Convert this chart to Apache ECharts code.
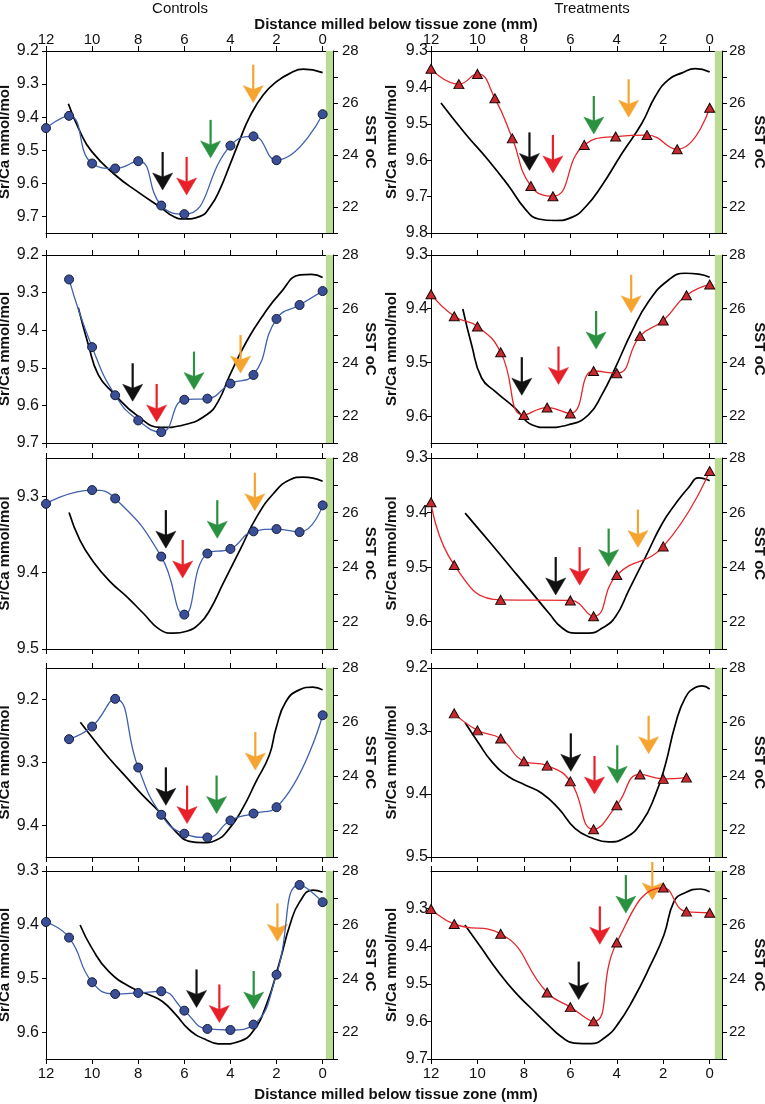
<!DOCTYPE html>
<html>
<head>
<meta charset="utf-8">
<title>Sr/Ca and SST</title>
<script src="https://cdn.jsdelivr.net/npm/echarts@6.0.0/dist/echarts.min.js"></script>
<style>
  html, body { margin: 0; padding: 0; background: #fff; }
  #chart { width: 765px; height: 1104px; }
</style>
</head>
<body>
<div id="chart"></div>
<script>
// ---- data ----
// distance milled below tissue zone (mm), Sr/Ca (mmol/mol), SST (oC)
var distTicks = [0, 2, 4, 6, 8, 10, 12];
var sstTicks = [21, 22, 23, 24, 25, 26, 27, 28];
var sstLabels = [22, 24, 26, 28];
// arrows: [distance, Sr/Ca at tip] in order black, red, green, orange
var arrowColors = ['#111111', '#e8202a', '#2a9140', '#f6a430'];

// Controls row 1
var c1Range = [9.2, 9.75];
var c1Ticks = [9.2, 9.3, 9.4, 9.5, 9.6, 9.7];
var c1Dist = [12, 11, 10, 9, 8, 7, 6, 4, 3, 2, 0];
var c1SrCa = [9.433, 9.396, 9.540, 9.555, 9.533, 9.667, 9.693, 9.486, 9.458, 9.530, 9.391];
var c1SstDist = [11.03, 10.53, 10.02, 9.01, 8.0, 6.99, 6.48, 6.02, 5.32, 4.82, 4.46, 4.02, 3.59, 3.16, 2.58, 2.0, 1.42, 0.84, 0];
var c1Sst = [25.97, 24.91, 24.14, 23.24, 22.57, 21.96, 21.64, 21.54, 21.64, 22.09, 22.67, 23.63, 24.59, 25.48, 26.31, 26.82, 27.14, 27.30, 27.17];
var c1Arrows = [[6.94, 9.620], [5.9, 9.635], [4.86, 9.523], [3.01, 9.356]];

// Treatments row 1
var t1Range = [9.3, 9.8];
var t1Ticks = [9.3, 9.4, 9.5, 9.6, 9.7, 9.8];
var t1Dist = [12, 10.8, 10, 9.25, 8.5, 7.7, 6.75, 5.4, 4.05, 2.7, 1.4, 0];
var t1SrCa = [9.349, 9.391, 9.363, 9.430, 9.540, 9.671, 9.699, 9.558, 9.535, 9.531, 9.570, 9.456];
var t1SstDist = [11.57, 10.53, 9.53, 8.67, 7.95, 7.37, 6.65, 5.94, 5.36, 4.64, 3.78, 2.92, 2.34, 1.77, 1.19, 0.62, 0];
var t1Sst = [26.0, 24.83, 23.80, 22.83, 21.93, 21.54, 21.48, 21.60, 21.99, 22.83, 24.06, 25.22, 26.26, 26.90, 27.16, 27.32, 27.19];
var t1Arrows = [[7.76, 9.628], [6.75, 9.635], [4.99, 9.528], [3.49, 9.482]];

// Controls row 2
var c2Range = [9.2, 9.7];
var c2Ticks = [9.2, 9.3, 9.4, 9.5, 9.6, 9.7];
var c2Dist = [11, 10, 9, 8, 7, 6, 5, 4, 3, 2, 1, 0];
var c2SrCa = [9.265, 9.445, 9.573, 9.640, 9.671, 9.585, 9.582, 9.542, 9.519, 9.370, 9.333, 9.296];
var c2SstDist = [10.6, 10.16, 9.73, 9.08, 8.0, 7.0, 6.0, 5.03, 4.53, 4.02, 3.3, 2.57, 1.85, 0.98, 0.48, 0];
var c2Sst = [26.04, 24.65, 23.54, 22.86, 21.99, 21.58, 21.68, 22.05, 22.55, 23.54, 24.78, 25.77, 26.57, 27.26, 27.28, 27.16];
var c2Arrows = [[8.24, 9.589], [7.2, 9.644], [5.58, 9.558], [3.56, 9.514]];

// Treatments row 2
var t2Range = [9.3, 9.65];
var t2Ticks = [9.3, 9.4, 9.5, 9.6];
var t2Dist = [12, 11, 10, 9, 8, 7, 6, 5, 4, 3, 2, 1, 0];
var t2SrCa = [9.373, 9.414, 9.433, 9.481, 9.598, 9.584, 9.595, 9.516, 9.520, 9.451, 9.422, 9.375, 9.355];
var t2SstDist = [10.63, 10.25, 9.82, 9.24, 8.38, 7.66, 7.01, 6.08, 5.22, 4.64, 4.07, 3.35, 2.63, 1.77, 1.05, 0.47, 0];
var t2Sst = [25.99, 24.65, 23.42, 22.92, 22.30, 21.68, 21.58, 21.68, 22.05, 22.80, 23.79, 25.15, 26.27, 27.07, 27.32, 27.29, 27.17];
var t2Arrows = [[8.09, 9.561], [6.51, 9.541], [4.89, 9.475], [3.38, 9.4075]];

// Controls row 3
var c3Range = [9.25, 9.5];
var c3Ticks = [9.3, 9.4, 9.5];
var c3Dist = [12, 10, 9, 7, 6, 5, 4, 3, 2, 1, 0];
var c3SrCa = [9.310, 9.292, 9.303, 9.379, 9.455, 9.375, 9.369, 9.346, 9.343, 9.347, 9.312];
var c3SstDist = [11.0, 10.53, 9.95, 9.22, 8.5, 7.78, 7.06, 6.48, 5.9, 5.32, 4.89, 4.31, 3.59, 2.86, 2.14, 1.42, 0.84, 0];
var c3Sst = [26.0, 24.99, 24.2, 23.47, 22.92, 22.31, 21.71, 21.58, 21.65, 21.95, 22.43, 23.41, 24.62, 25.84, 26.69, 27.2, 27.3, 27.15];
var c3Arrows = [[6.8, 9.368], [6.07, 9.407], [4.57, 9.355], [2.94, 9.319]];

// Treatments row 3
var t3Range = [9.3, 9.65];
var t3Ticks = [9.3, 9.4, 9.5, 9.6];
var t3Dist = [12, 11, 9, 6, 5, 4, 2, 0];
var t3SrCa = [9.381, 9.496, 9.560, 9.561, 9.590, 9.5145, 9.462, 9.324];
var t3SstDist = [10.53, 9.78, 9.06, 8.35, 7.63, 6.92, 6.35, 5.77, 5.2, 4.62, 4.05, 3.48, 2.76, 2.05, 1.47, 0.9, 0.47, 0.19, 0];
var t3Sst = [25.98, 25.23, 24.5, 23.77, 23.04, 22.31, 21.77, 21.58, 21.58, 21.77, 22.19, 23.16, 24.38, 25.59, 26.32, 26.93, 27.27, 27.23, 27.17];
var t3Arrows = [[6.63, 9.551], [5.6, 9.533], [4.35, 9.499], [3.09, 9.464]];

// Controls row 4
var c4Range = [9.15, 9.45];
var c4Ticks = [9.2, 9.3, 9.4];
var c4Dist = [11, 10, 9, 8, 7, 6, 5, 4, 3, 2, 0];
var c4SrCa = [9.263, 9.243, 9.199, 9.308, 9.383, 9.413, 9.419, 9.392, 9.381, 9.371, 9.225];
var c4SstDist = [10.51, 9.97, 9.25, 8.53, 7.81, 7.08, 6.36, 5.78, 5.2, 4.63, 4.05, 3.47, 2.89, 2.31, 2.02, 1.59, 1.01, 0.43, 0];
var c4Sst = [25.99, 25.4, 24.65, 23.97, 23.29, 22.67, 21.93, 21.58, 21.53, 21.62, 22.05, 22.80, 23.79, 24.78, 25.77, 26.76, 27.19, 27.29, 27.19];
var c4Arrows = [[6.8, 9.368], [5.88, 9.397], [4.6, 9.381], [2.92, 9.312]];

// Treatments row 4
var t4Range = [9.2, 9.5];
var t4Ticks = [9.2, 9.3, 9.4, 9.5];
var t4Dist = [11, 10, 9, 8, 7, 6, 5, 4, 3, 2, 1];
var t4SrCa = [9.272, 9.299, 9.312, 9.348, 9.355, 9.380, 9.456, 9.418, 9.369, 9.376, 9.374];
var t4SstDist = [10.53, 9.96, 9.39, 8.67, 7.95, 7.23, 6.51, 5.79, 5.07, 4.36, 3.64, 2.92, 2.34, 1.91, 1.48, 1.05, 0.62, 0.33, 0];
var t4Sst = [25.97, 25.23, 24.54, 23.98, 23.67, 23.36, 22.8, 22.05, 21.71, 21.56, 21.71, 22.30, 23.30, 24.42, 25.91, 26.9, 27.28, 27.34, 27.22];
var t4Arrows = [[5.98, 9.364], [4.96, 9.400], [3.98, 9.383], [2.63, 9.336]];

// Controls row 5
var c5Range = [9.3, 9.65];
var c5Ticks = [9.3, 9.4, 9.5, 9.6];
var c5Dist = [12, 11, 10, 9, 8, 7, 6, 5, 4, 3, 2, 1, 0];
var c5SrCa = [9.395, 9.424, 9.507, 9.529, 9.527, 9.524, 9.560, 9.594, 9.596, 9.586, 9.493, 9.326, 9.358];
var c5SstDist = [10.52, 10.01, 9.28, 8.26, 7.53, 6.95, 6.37, 5.79, 5.06, 4.33, 3.6, 3.02, 2.44, 1.86, 1.42, 0.99, 0.41, 0];
var c5Sst = [25.99, 25.13, 24.26, 23.64, 23.39, 23.14, 22.65, 22.09, 21.72, 21.56, 21.66, 22.03, 23.02, 24.63, 25.99, 26.86, 27.29, 27.21];
var c5Arrows = [[5.47, 9.554], [4.48, 9.582], [2.99, 9.557], [1.96, 9.431]];

// Treatments row 5
var t5Range = [9.2, 9.7];
var t5Ticks = [9.3, 9.4, 9.5, 9.6, 9.7];
var t5Dist = [12, 11, 9, 7, 6, 5, 4, 2, 1, 0];
var t5SrCa = [9.301, 9.341, 9.367, 9.523, 9.562, 9.600, 9.390, 9.244, 9.308, 9.311];
var t5SstDist = [10.54, 9.83, 9.11, 8.4, 7.69, 6.97, 6.4, 5.83, 5.11, 4.54, 3.97, 3.26, 2.54, 1.97, 1.54, 1.11, 0.4, 0];
var t5Sst = [25.99, 25.13, 24.26, 23.51, 22.89, 22.28, 21.84, 21.59, 21.57, 21.78, 22.28, 23.27, 24.51, 25.62, 26.86, 27.17, 27.33, 27.23];
var t5Arrows = [[5.64, 9.542], [4.73, 9.395], [3.61, 9.312], [2.47, 9.277]];

// ---- layout ----
var colLeft = [46, 431];
var colWidth = [287, 291];
var colDistMin = [-0.45, -0.53];
var colBand = [[-0.14, -0.45], [-0.22, -0.53]];
var rowTop = [51, 255, 458, 668, 871];
var rowHeight = [182, 188, 191, 189, 188];

var FONT = 'Liberation Sans, Arial, sans-serif';

var panels = [
  {col: 0, row: 0, range: c1Range, ticks: c1Ticks, dist: c1Dist, sr: c1SrCa, sstDist: c1SstDist, sst: c1Sst, arrows: c1Arrows, ctrl: true},
  {col: 1, row: 0, range: t1Range, ticks: t1Ticks, dist: t1Dist, sr: t1SrCa, sstDist: t1SstDist, sst: t1Sst, arrows: t1Arrows, ctrl: false},
  {col: 0, row: 1, range: c2Range, ticks: c2Ticks, dist: c2Dist, sr: c2SrCa, sstDist: c2SstDist, sst: c2Sst, arrows: c2Arrows, ctrl: true},
  {col: 1, row: 1, range: t2Range, ticks: t2Ticks, dist: t2Dist, sr: t2SrCa, sstDist: t2SstDist, sst: t2Sst, arrows: t2Arrows, ctrl: false},
  {col: 0, row: 2, range: c3Range, ticks: c3Ticks, dist: c3Dist, sr: c3SrCa, sstDist: c3SstDist, sst: c3Sst, arrows: c3Arrows, ctrl: true},
  {col: 1, row: 2, range: t3Range, ticks: t3Ticks, dist: t3Dist, sr: t3SrCa, sstDist: t3SstDist, sst: t3Sst, arrows: t3Arrows, ctrl: false},
  {col: 0, row: 3, range: c4Range, ticks: c4Ticks, dist: c4Dist, sr: c4SrCa, sstDist: c4SstDist, sst: c4Sst, arrows: c4Arrows, ctrl: true},
  {col: 1, row: 3, range: t4Range, ticks: t4Ticks, dist: t4Dist, sr: t4SrCa, sstDist: t4SstDist, sst: t4Sst, arrows: t4Arrows, ctrl: false},
  {col: 0, row: 4, range: c5Range, ticks: c5Ticks, dist: c5Dist, sr: c5SrCa, sstDist: c5SstDist, sst: c5Sst, arrows: c5Arrows, ctrl: true},
  {col: 1, row: 4, range: t5Range, ticks: t5Ticks, dist: t5Dist, sr: t5SrCa, sstDist: t5SstDist, sst: t5Sst, arrows: t5Arrows, ctrl: false}
];

function zip(xs, ys) {
  var out = [];
  for (var i = 0; i < xs.length; i++) out.push([xs[i], ys[i]]);
  return out;
}

var axisLine = {show: true, onZero: false, lineStyle: {color: '#000', width: 1}};

function distAxis(gi, p, position, showLabels) {
  return {
    type: 'value',
    gridIndex: gi,
    position: position,
    inverse: true,
    min: colDistMin[p.col],
    max: 12,
    axisLine: axisLine,
    axisTick: {show: true, inside: false, length: 5, customValues: distTicks, lineStyle: {color: '#000'}},
    axisLabel: {
      show: showLabels, customValues: distTicks, color: '#111',
      fontFamily: FONT, fontSize: 15, margin: position === 'top' ? 4 : 7
    },
    splitLine: {show: false}
  };
}

// arrow drawn in pixel space from the tip value
function renderArrow(params, api) {
  var pt = api.coord([api.value(0), api.value(1)]);
  var x = pt[0], y = pt[1];
  var color = arrowColors[params.dataIndex];
  return {
    type: 'group',
    children: [
      {type: 'line', shape: {x1: x, y1: y - 38, x2: x, y2: y - 11}, style: {stroke: color, lineWidth: 2.2}},
      {type: 'polygon', shape: {points: [[x, y], [x - 10, y - 17], [x, y - 13], [x + 10, y - 17]]},
        style: {fill: color, stroke: color, lineWidth: 0.5}}
    ]
  };
}

var grids = [], xAxes = [], yAxes = [], series = [];

panels.forEach(function (p, i) {
  grids.push({
    left: colLeft[p.col], top: rowTop[p.row],
    width: colWidth[p.col], height: rowHeight[p.row],
    containLabel: false, outerBoundsMode: 'none'
  });
  xAxes.push(distAxis(i, p, 'bottom', p.row === 4));
  xAxes.push(distAxis(i, p, 'top', p.row === 0));

  yAxes.push({
    type: 'value',
    gridIndex: i,
    position: 'left',
    inverse: true,
    min: p.range[0],
    max: p.range[1],
    name: 'Sr/Ca mmol/mol',
    nameLocation: 'middle',
    nameRotate: 90,
    nameGap: p.col === 0 ? 31 : 32,
    nameTextStyle: {fontFamily: FONT, fontSize: 15, fontWeight: 'bold', color: '#111'},
    axisLine: axisLine,
    axisTick: {show: true, length: 4, customValues: p.ticks, lineStyle: {color: '#000'}},
    axisLabel: {
      customValues: p.ticks, color: '#111', fontFamily: FONT, fontSize: 16,
      margin: p.col === 0 ? 7 : 3,
      formatter: function (v) { return v.toFixed(1); }
    },
    splitLine: {show: false}
  });
  yAxes.push({
    type: 'value',
    gridIndex: i,
    position: 'right',
    min: 21,
    max: 28,
    name: 'SST oC',
    nameLocation: 'middle',
    nameRotate: -90,
    nameGap: p.col === 0 ? 27 : 30,
    nameTextStyle: {fontFamily: FONT, fontSize: 15, fontWeight: 'bold', color: '#111'},
    axisLine: axisLine,
    axisTick: {show: true, length: 5, customValues: sstTicks, lineStyle: {color: '#000'}},
    axisLabel: {
      customValues: sstLabels, color: '#111', fontFamily: FONT, fontSize: 15,
      margin: p.col === 0 ? 9 : 7
    },
    splitLine: {show: false}
  });

  var band = colBand[p.col];
  // SST (black) on the right axis, with the green strip at the tissue edge
  series.push({
    type: 'line',
    xAxisIndex: 2 * i,
    yAxisIndex: 2 * i + 1,
    data: zip(p.sstDist, p.sst),
    smooth: 0.5,
    symbol: 'none',
    lineStyle: {color: '#000', width: 1.7},
    z: 2,
    markArea: {
      silent: true,
      itemStyle: {color: '#b9dc92'},
      data: [[{xAxis: band[0]}, {xAxis: band[1]}]]
    }
  });
  // arrows
  series.push({
    type: 'custom',
    xAxisIndex: 2 * i,
    yAxisIndex: 2 * i,
    data: p.arrows,
    renderItem: renderArrow,
    z: 3
  });
  // Sr/Ca
  series.push({
    type: 'line',
    xAxisIndex: 2 * i,
    yAxisIndex: 2 * i,
    data: zip(p.dist, p.sr),
    smooth: 0.5,
    symbol: p.ctrl ? 'circle' : 'triangle',
    symbolSize: p.ctrl ? 9 : [10, 9],
    lineStyle: {color: p.ctrl ? '#3f60ad' : '#e5262b', width: 1.3},
    itemStyle: p.ctrl
      ? {color: '#3a4f98', borderColor: '#141c3a', borderWidth: 1}
      : {color: '#c8282e', borderColor: '#1a0808', borderWidth: 1},
    z: 4
  });
});

function label(text, x, y, size, bold) {
  return {
    type: 'text', x: x, y: y, silent: true,
    style: {
      text: text, fill: '#111', fontFamily: FONT, fontSize: size, fontWeight: bold ? 'bold' : 'normal',
      textAlign: 'center', textVerticalAlign: 'middle', align: 'center', verticalAlign: 'middle'
    }
  };
}

var myChart = echarts.init(document.getElementById('chart'));
myChart.setOption({
  animation: false,
  grid: grids,
  xAxis: xAxes,
  yAxis: yAxes,
  series: series,
  graphic: [
    label('Controls', 180, 9, 15, false),
    label('Treatments', 592, 9, 15, false),
    label('Distance milled below tissue zone (mm)', 396, 25, 15, true),
    label('Distance milled below tissue zone (mm)', 396, 1095, 15, true)
  ]
});
</script>
</body>
</html>
